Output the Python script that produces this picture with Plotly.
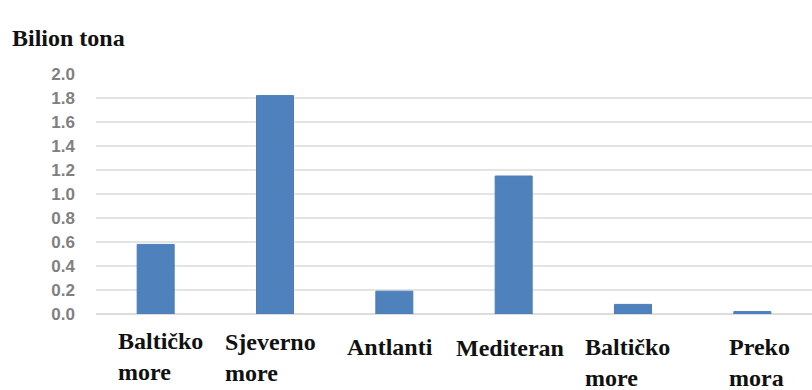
import plotly.graph_objects as go

categories = ["Baltičko more", "Sjeverno more", "Antlanti", "Mediteran", "Baltičko more ", "Preko mora"]
label_texts = ["Baltičko<br>more", "Sjeverno<br>more", "Antlanti", "Mediteran", "Baltičko<br>more", "Preko<br>mora"]
values = [0.58, 1.82, 0.19, 1.15, 0.08, 0.02]
y_ticks = [0.0, 0.2, 0.4, 0.6, 0.8, 1.0, 1.2, 1.4, 1.6, 1.8, 2.0]

SERIF = "Times New Roman, Liberation Serif, serif"

# label placement tweaks (pixels) to mimic the source layout
label_xshift = [-40, -52, -49, -60, -50, -25]
label_yshift = [-12, -13, -18, -19, -18, -18]

fig = go.Figure()
fig.add_trace(go.Bar(
    x=categories, y=values,
    marker=dict(color="#4f81bd", line=dict(color="#4a7dba", width=1)),
    width=0.31,
))

for cat, txt, dx, dy in zip(categories, label_texts, label_xshift, label_yshift):
    fig.add_annotation(
        x=cat, y=0, xref="x", yref="y",
        text="<b>" + txt.replace("<br>", "</b><br><b>") + "</b>", showarrow=False,
        xanchor="left", yanchor="top", align="left",
        xshift=dx, yshift=dy,
        font=dict(family=SERIF, size=24, color="#111111"),
    )

fig.add_annotation(
    x=0, y=1, xref="paper", yref="paper",
    text="<b>Bilion tona</b>", showarrow=False,
    xanchor="left", yanchor="top",
    xshift=-86, yshift=51,
    font=dict(family=SERIF, size=24, color="#111111"),
)

fig.update_layout(
    width=812, height=390,
    margin=dict(l=96, r=0, t=74, b=76),
    plot_bgcolor="white", paper_bgcolor="white",
    showlegend=False,
)
fig.update_xaxes(showticklabels=False, showgrid=False, zeroline=False, showline=False,
                 range=[-0.5, 5.5])
fig.update_yaxes(range=[0, 2.0], tickvals=y_ticks, ticktext=[f"<b>{v:.1f}</b>" for v in y_ticks],
                 showgrid=True, gridcolor="#e4e4e4", gridwidth=2,
                 zeroline=True, zerolinecolor="#dcdcdc", zerolinewidth=2,
                 ticklabelstandoff=20,
                 tickfont=dict(family="Liberation Sans", size=17, color="#808080"))

fig.write_html("out.html")
